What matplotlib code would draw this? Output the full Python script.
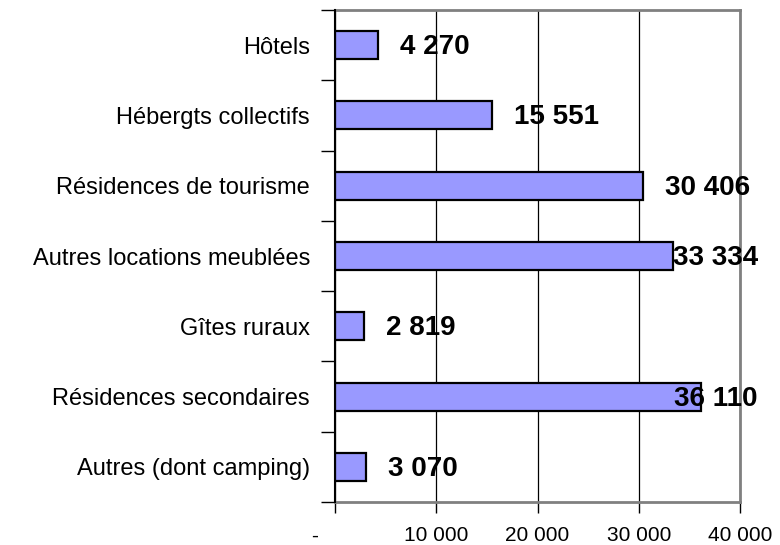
import matplotlib
matplotlib.use("Agg")
import matplotlib.pyplot as plt
import matplotlib.transforms as mtransforms
import numpy as np

categories = ["Hôtels", "Hébergts collectifs", "Résidences de tourisme",
              "Autres locations meublées", "Gîtes ruraux",
              "Résidences secondaires", "Autres (dont camping)"]
values = [4270, 15551, 30406, 33334, 2819, 36110, 3070]
xticks = [0, 10000, 20000, 30000, 40000]

def fmt(v):
    return "-" if v == 0 else f"{v:,}".replace(",", " ")

plt.rcParams['font.family'] = ['Liberation Sans', 'DejaVu Sans']

DPI = 100
fig = plt.figure(figsize=(7.8, 5.45), dpi=DPI)
ax = fig.add_axes([335/780, 1-502/545, (740-335)/780, (502-10)/545])

y = np.arange(len(categories))
ax.barh(y, values, height=0.4, color="#9999FF", edgecolor="black", linewidth=1.6, zorder=3)
ax.set_ylim(len(categories)-0.5, -0.5)
ax.set_xlim(0, 40000)

# gridlines
ax.set_xticks(xticks)
ax.set_xticklabels([fmt(v) for v in xticks], fontsize=15)
ax.xaxis.grid(True, color="black", linewidth=0.9, zorder=1)
ax.tick_params(axis='x', length=8, width=1, pad=9.5, colors="black")

ax.set_yticks(y)
ax.set_yticklabels(categories, fontsize=17)
ax.tick_params(axis='y', which='major', length=0, pad=18)
ax.set_yticks(np.arange(len(categories)+1)-0.5, minor=True)
ax.tick_params(axis='y', which='minor', length=10, width=1, direction='out')

for s in ['top', 'right', 'bottom']:
    ax.spines[s].set_color("#808080")
    ax.spines[s].set_linewidth(2)
ax.spines['left'].set_color("black")
ax.spines['left'].set_linewidth(1.5)
ax.spines['left'].set_zorder(4)

# shift the "-" label left
lbl0 = ax.get_xticklabels()[0]
lbl0.set_transform(lbl0.get_transform() + mtransforms.ScaledTranslation(-20/DPI, 0, fig.dpi_scale_trans))

# data labels
fig.canvas.draw()
renderer = fig.canvas.get_renderer()
ax_right = ax.get_window_extent().x1
limit = ax_right + 18
for yi, v in zip(y, values):
    t = ax.annotate(fmt(v), xy=(v, yi), xytext=(22, -2), textcoords='offset pixels',
                    ha='left', va='center', fontsize=20, fontweight='bold', zorder=5,
                    annotation_clip=False)
    bb = t.get_window_extent(renderer)
    if bb.x1 > limit:
        t.remove()
        ax.annotate(fmt(v), xy=(1, yi), xycoords=('axes fraction', 'data'),
                    xytext=(18, -2), textcoords='offset pixels',
                    ha='right', va='center', fontsize=20, fontweight='bold', zorder=5,
                    annotation_clip=False)

fig.savefig("out.png", dpi=DPI)
